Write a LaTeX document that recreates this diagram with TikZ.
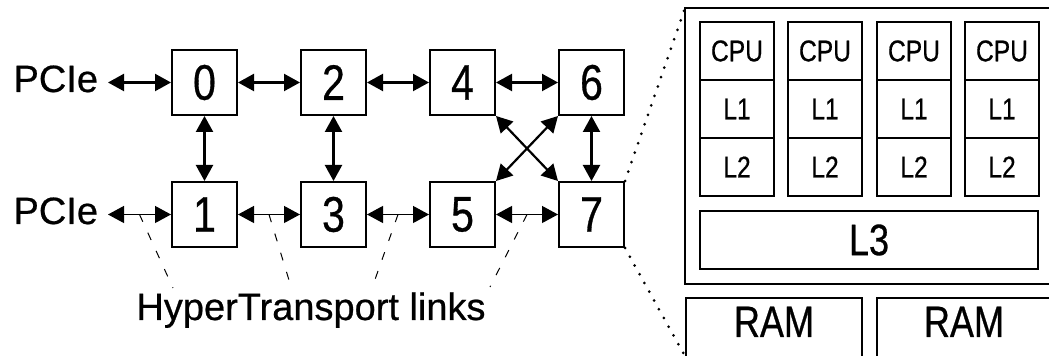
\documentclass[tikz,border=0pt]{standalone}
\usepackage{fontspec}
\setmainfont{Liberation Sans}[FakeBold=0.6]
\newfontfamily\narrowsf{Liberation Sans}[FakeStretch=0.82,FakeBold=0.6]
\usetikzlibrary{arrows.meta,calc}

\begin{document}
\begin{tikzpicture}[x=0.5pt,y=-0.5pt,
    htnode/.style={draw, line width=1pt, minimum width=32.5pt, minimum height=32.5pt,
      inner sep=0pt, font=\narrowsf\fontsize{25}{25}\selectfont},
    cell/.style={draw, line width=1pt, minimum width=37pt, minimum height=29pt,
      inner sep=0pt, font=\narrowsf\fontsize{15}{15}\selectfont},
    biglabel/.style={font=\fontsize{19}{19}\selectfont, inner sep=0pt, outer sep=0pt},
    link/.style={arrows={Triangle[length=8pt,width=8.5pt]-Triangle[length=8pt,width=8.5pt]}, line width=1.1pt},
    thinlink/.style={link, line width=0.6pt},
    htlink/.style={line width=0.5pt, dash pattern=on 4pt off 6pt},
    zoomline/.style={line width=1.5pt, line cap=round, dash pattern=on 0pt off 5pt}]
  \useasboundingbox (0,0) rectangle (1049,356);

  % the eight nodes
  \node[htnode] (n0) at (204.5,82.5) {0};
  \node[htnode] (n2) at (333.5,82.5) {2};
  \node[htnode] (n4) at (462.5,82.5) {4};
  \node[htnode] (n6) at (591.5,82.5) {6};
  \node[htnode] (n1) at (204.5,214.5) {1};
  \node[htnode] (n3) at (333.5,214.5) {3};
  \node[htnode] (n5) at (462.5,214.5) {5};
  \node[htnode] (n7) at (591.5,214.5) {7};

  \node[biglabel, inner xsep=5pt, anchor=base east] (pcieA) at (108,92) {PCIe};
  \node[biglabel, inner xsep=5pt, anchor=base east] (pcieB) at (108,224) {PCIe};

  \draw[link] (pcieA.east |- n0) -- (n0);
  \draw[link] (n0) -- (n2);
  \draw[link] (n2) -- (n4);
  \draw[link] (n4) -- (n6);
  \draw[link] (n0) -- (n1);
  \draw[link] (n2) -- (n3);
  \draw[link] (n6) -- (n7);
  \draw[link] (n4.south east) -- (n7.north west);
  \draw[link] (n6.south west) -- (n5.north east);

  \draw[thinlink] (pcieB.east |- n1) -- (n1);
  \draw[thinlink] (n1) -- (n3);
  \draw[thinlink] (n3) -- (n5);
  \draw[thinlink] (n5) -- (n7);

  % HyperTransport label
  \node[biglabel, anchor=base] (ht) at (311,320) {HyperTransport links};
  \coordinate (ha) at (173,288);
  \coordinate (hb) at (292,290);
  \coordinate (hc) at (372,288);
  \coordinate (hd) at (490,287);
  \draw[htlink] ($(pcieB.east |- n1)!0.5!(n1.west)$) -- (ha);
  \draw[htlink] ($(n1.east)!0.5!(n3.west)$) -- (hb);
  \draw[htlink] ($(n3.east)!0.5!(n5.west)$) -- (hc);
  \draw[htlink] ($(n5.east)!0.5!(n7.west)$) -- (hd);

  % one node, enlarged
  \coordinate (chipnw) at (685,8);
  \draw[line width=1pt] (chipnw) rectangle (1070,284);
  \foreach \i/\x in {1/737,2/825,3/914,4/1002}{
    \node[cell] (cpu\i) at (\x,51) {CPU};
    \node[cell] (lone\i) at (\x,109) {L1};
    \node[cell] (ltwo\i) at (\x,167) {L2};
  }
  \node[draw, line width=1pt, minimum width=169pt, minimum height=29pt, inner sep=0pt,
    font=\narrowsf\fontsize{22}{22}\selectfont] (lthree) at (869,240) {L3};

  \coordinate (ramsw) at (686,358);
  \draw[line width=1pt] (686,298) rectangle (862,372);
  \draw[line width=1pt] (877,298) rectangle (1051,372);
  \node[font=\narrowsf\fontsize{22}{22}\selectfont, anchor=base] (ram1) at (774,337) {RAM};
  \node[font=\narrowsf\fontsize{22}{22}\selectfont, anchor=base] (ram2) at (964,337) {RAM};

  \draw[zoomline] (n7.north east) -- (chipnw);
  \draw[zoomline] (n7.south east) -- (ramsw);
\end{tikzpicture}
\end{document}
